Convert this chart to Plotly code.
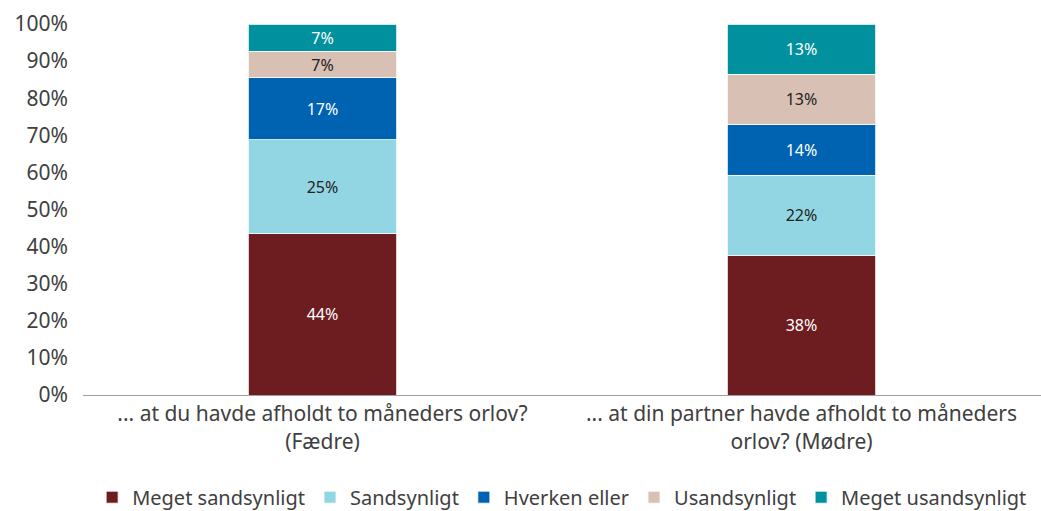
import plotly.graph_objects as go

categories = ["... at du havde afholdt to måneders orlov?<br>(Fædre)",
              "... at din partner havde afholdt to måneders<br>orlov? (Mødre)"]
series_names = ["Meget sandsynligt", "Sandsynligt", "Hverken eller", "Usandsynligt", "Meget usandsynligt"]
meget_sandsynligt = [43.5, 37.5]
sandsynligt = [25.3, 21.8]
hverken_eller = [16.7, 13.7]
usandsynligt = [7.1, 13.5]
meget_usandsynligt = [7.4, 13.5]
labels = [["44%", "38%"], ["25%", "22%"], ["17%", "14%"], ["7%", "13%"], ["7%", "13%"]]
colors = ["#6D1D20", "#92D6E3", "#0063B2", "#D8C0B5", "#00909E"]
text_colors = ["white", "#222222", "white", "#222222", "white"]
values = [meget_sandsynligt, sandsynligt, hverken_eller, usandsynligt, meget_usandsynligt]

FONT = "Noto Sans"
TXT = "#404040"
fig = go.Figure()
for name, vals, lab, col, tc in zip(series_names, values, labels, colors, text_colors):
    fig.add_trace(go.Bar(
        x=categories, y=vals, name=name, text=lab, textposition="inside",
        insidetextanchor="middle", textangle=0,
        textfont=dict(color=tc, size=16, family=FONT),
        marker=dict(color=col, line=dict(color="white", width=0.8)),
        width=0.31, hoverinfo="skip"))

fig.update_layout(
    barmode="stack", width=1041, height=511,
    margin=dict(l=83, r=0, t=24, b=116),
    plot_bgcolor="white", paper_bgcolor="white",
    font=dict(family=FONT, size=20, color=TXT),
    uniformtext=dict(mode="show", minsize=16),
    legend=dict(orientation="h", xref="container", yref="container",
                x=0.54, xanchor="center", y=0.027, yanchor="middle",
                font=dict(size=20, color=TXT), traceorder="normal",
                itemwidth=30, tracegroupgap=0),
    showlegend=True,
)
fig.update_yaxes(range=[0, 100], dtick=10, ticksuffix="%", showgrid=False,
                 zeroline=False, showline=False, ticks="", ticklabelstandoff=14,
                 automargin=False, tickfont=dict(size=21, color=TXT))
fig.update_xaxes(showline=True, linecolor="#A0A0A0", linewidth=1, ticks="",
                 automargin=False, tickfont=dict(size=21, color=TXT))
fig.write_html("out.html", config={"displayModeBar": False},
               post_script="document.body.style.margin='0';document.body.style.overflow='hidden';")
